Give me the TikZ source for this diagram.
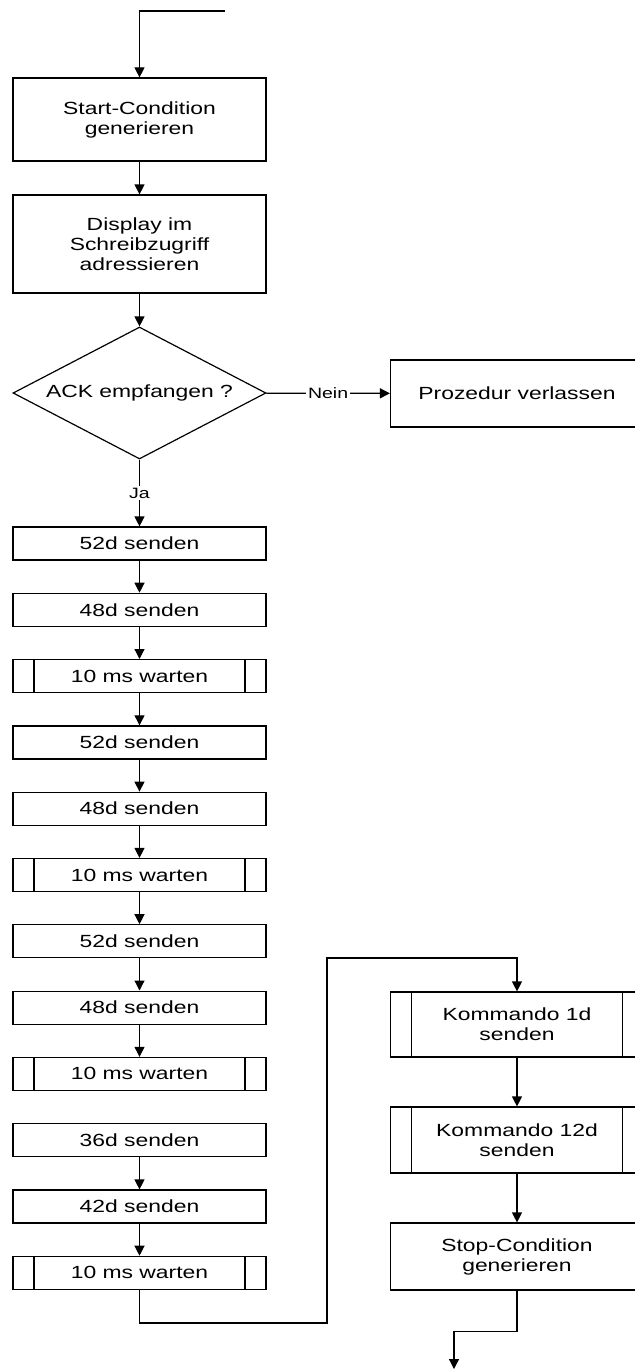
\documentclass[tikz,border=0pt]{standalone}
\usepackage{fontspec}
\setmainfont[FakeStretch=1.3]{Liberation Sans}
\usetikzlibrary{shapes.geometric, arrows.meta}

\tikzset{
  box/.style={draw, minimum width=126.5pt, minimum height=16.5pt, inner sep=1pt,
    align=center, font=\fontsize{8.8}{10}\selectfont},
  subbox/.style={box, path picture={
    \draw[line width=0.6pt] ([xshift=10.5pt]path picture bounding box.north west)
      -- ([xshift=10.5pt]path picture bounding box.south west);
    \draw[line width=0.6pt] ([xshift=-10.5pt]path picture bounding box.north east)
      -- ([xshift=-10.5pt]path picture bounding box.south east);}},
  decision/.style={draw, diamond, aspect=1.92, minimum width=126.5pt, minimum height=66pt,
    inner sep=0pt, font=\fontsize{8.8}{10}\selectfont},
  lbl/.style={font=\fontsize{7.5}{9}\selectfont, fill=white, inner sep=1pt},
  arr/.style={-{Triangle[width=5pt,length=5pt]}},
}

\begin{document}
\begin{tikzpicture}[x=0.5pt, y=-0.5pt, line width=0.6pt]
\useasboundingbox (0,0) rectangle (634,1370);
% setup: start condition, address, acknowledge
\node[box, minimum height=41.5pt] (start) at (139.5,119.5) {Start-Condition\\generieren};
\node[box, minimum height=49pt] (addr) at (139.5,244) {Display im\\Schreibzugriff\\adressieren};
\node[decision] (ack) at (139.5,393) {ACK empfangen ?};
\node[box, minimum height=33.5pt] (quit) at (517,393.5) {Prozedur verlassen};
% init sequence
\node[box] (s1) at (139.5,543.5) {52d senden};
\node[box] (s2) at (139.5,609.8) {48d senden};
\node[subbox] (w1) at (139.5,676.1) {10 ms warten};
\node[box] (s3) at (139.5,742.4) {52d senden};
\node[box] (s4) at (139.5,808.7) {48d senden};
\node[subbox] (w2) at (139.5,875) {10 ms warten};
\node[box] (s5) at (139.5,941.3) {52d senden};
\node[box] (s6) at (139.5,1007.6) {48d senden};
\node[subbox] (w3) at (139.5,1073.9) {10 ms warten};
\node[box] (s7) at (139.5,1140.2) {36d senden};
\node[box] (s8) at (139.5,1206.5) {42d senden};
\node[subbox] (w4) at (139.5,1272.8) {10 ms warten};
% commands and stop
\node[subbox, minimum height=32.5pt] (k1) at (517,1024.5) {Kommando 1d\\senden};
\node[subbox, minimum height=33pt] (k2) at (517,1140) {Kommando 12d\\senden};
\node[box, minimum height=33.5pt] (stop) at (517,1256.5) {Stop-Condition\\generieren};
% free ends and bends
\coordinate (in) at (225,11);
\coordinate (out) at (454,1369);
\coordinate (j1) at (327,1323);
\coordinate (j2) at (327,958);
% connectors
\draw[arr] (in) -| (start.north);
\draw[arr] (start) -- (addr);
\draw[arr] (addr) -- (ack);
\draw[arr] (ack) -- node[lbl] {Nein} (quit);
\draw[arr] (ack) -- node[lbl] {Ja} (s1);
\draw[arr] (s1) -- (s2);
\draw[arr] (s2) -- (w1);
\draw[arr] (w1) -- (s3);
\draw[arr] (s3) -- (s4);
\draw[arr] (s4) -- (w2);
\draw[arr] (w2) -- (s5);
\draw[arr] (s5) -- (s6);
\draw[arr] (s6) -- (w3);
\draw[arr] (s7) -- (s8);
\draw[arr] (s8) -- (w4);
\draw[arr] (w4.south) |- (j1) -- (j2) -| (k1.north);
\draw[arr] (k1) -- (k2);
\draw[arr] (k2) -- (stop);
\draw[arr] (stop.south) -- ++(0,41) -| (out);
\end{tikzpicture}
\end{document}
